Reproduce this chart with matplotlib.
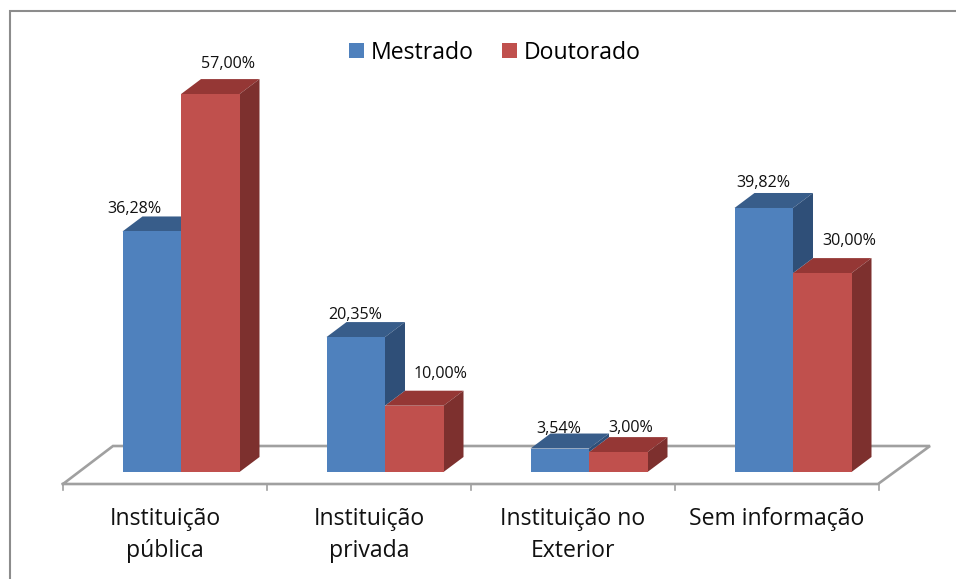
import numpy as np
from matplotlib import pyplot as plt
from matplotlib.patches import Polygon

categories = ['Instituição\npública', 'Instituição\nprivada', 'Instituição no\nExterior', 'Sem informação']
mestrado = [36.28, 20.35, 3.54, 39.82]
doutorado = [57.00, 10.00, 3.00, 30.00]
mestrado_labels = ['36,28%', '20,35%', '3,54%', '39,82%']
doutorado_labels = ['57,00%', '10,00%', '3,00%', '30,00%']

# label offsets from the top of the front face, in pixels
mestrado_off = [(-17, 22), (-1, 22), (-1, 20), (0, 25)]
doutorado_off = [(18, 30), (26, 32), (12, 24), (27, 32)]

plt.rcParams['font.family'] = ['Open Sans', 'DejaVu Sans']

px_x = 204.0     # pixels per category
px_y = 6.63      # pixels per percent
x0_px = 181.0    # pixel of first category centre
y0_px = 472.0    # pixel of value zero
W, H = 956, 579

fig = plt.figure(figsize=(W / 100, H / 100), dpi=100)
ax = fig.add_axes([0, 0, 1, 1])
ax.set_xlim(-x0_px / px_x, (W - x0_px) / px_x)
ax.set_ylim((y0_px - H) / px_y, y0_px / px_y)
ax.axis('off')

bw = 58.5 / px_x
dx = 20 / px_x
dy = 15 / px_y
x = np.arange(len(categories))
grey = '#a0a0a0'

# frame only shows on the top and left
ax.plot([1, 10 / W, 10 / W], [1 - 11 / H, 1 - 11 / H, 0], transform=ax.transAxes,
        color='#8c8c8c', lw=1.5, solid_joinstyle='miter', zorder=1)

# floor
fl = (y0_px - 484) / px_y
bl = (y0_px - 446) / px_y
xl = (63 - x0_px) / px_x
xr = (878 - x0_px) / px_x
ax.plot([xl, xl + 50 / px_x, xr + 52 / px_x, xr, xl], [fl, bl, bl, fl, fl], color=grey, lw=1.9, zorder=1,
        solid_joinstyle='miter')
for i in range(len(categories) + 1):
    ax.plot([xl + i, xl + i], [fl, fl - 6 / px_y], color=grey, lw=1.2, zorder=1)


def draw_box(xc, v, base, top, side):
    left = xc - bw / 2
    right = xc + bw / 2
    ax.add_patch(Polygon([(left, v), (left + dx, v + dy), (right + dx, v + dy), (right, v)],
                         fc=top, ec='none', zorder=3))
    if v > base:
        ax.add_patch(Polygon([(right, base), (right + dx, base + dy), (right + dx, v + dy), (right, v)],
                             fc=side, ec='none', zorder=3))


b1 = ax.bar(x - bw / 2, mestrado, bw, color='#4f81bd', label='Mestrado', zorder=4)
b2 = ax.bar(x + bw / 2, doutorado, bw, color='#c0504d', label='Doutorado', zorder=4)
for i in x:
    # red first, the blue side only shows above the red top
    draw_box(i + bw / 2, doutorado[i], 0, '#953735', '#7d302e')
    draw_box(i - bw / 2, mestrado[i], doutorado[i], '#385d8a', '#2f4f78')

for i in x:
    ax.annotate(mestrado_labels[i], (i - bw / 2, mestrado[i]), xytext=mestrado_off[i],
                textcoords='offset pixels', ha='center', va='center', fontsize=11.6, color='#111111', zorder=6)
    ax.annotate(doutorado_labels[i], (i + bw / 2, doutorado[i]), xytext=doutorado_off[i],
                textcoords='offset pixels', ha='center', va='center', fontsize=11.6, color='#111111', zorder=6)
    ax.text(xl + i + 0.5, fl - 23 / px_y, categories[i], ha='center', va='top',
            fontsize=16.6, linespacing=1.47, color='#111111')

ax.legend(handles=[b1, b2], loc='center', bbox_to_anchor=(0.5175, 0.909), ncol=2, frameon=False,
          fontsize=16.6, handlelength=0.66, handleheight=0.66, handletextpad=0.27, columnspacing=1.25)

plt.savefig('out.png', dpi=100)
